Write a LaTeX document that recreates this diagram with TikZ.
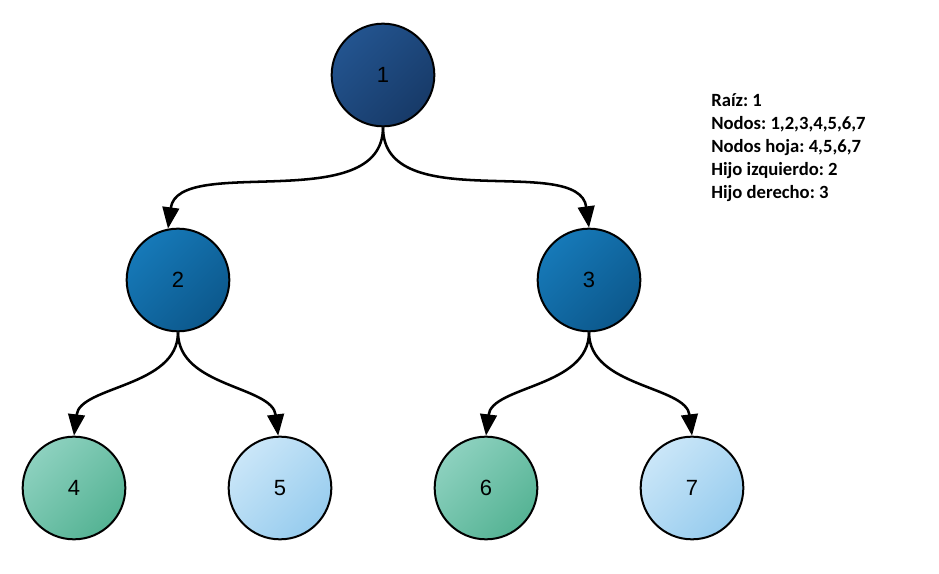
\documentclass[tikz,border=0pt]{standalone}
\usepackage{fontspec}
\setmainfont{Liberation Sans}
\newfontfamily\notefont{Carlito}
\usetikzlibrary{arrows.meta}
\definecolor{rootlight}{HTML}{23548F}
\definecolor{rootdark}{HTML}{173A68}
\definecolor{innerlight}{HTML}{1679B8}
\definecolor{innerdark}{HTML}{0C588C}
\definecolor{greenlight}{HTML}{8DD1BF}
\definecolor{greendark}{HTML}{55B394}
\definecolor{bluelight}{HTML}{CAE6F8}
\definecolor{bluedark}{HTML}{97CCEE}
\frenchspacing

\begin{document}
\begin{tikzpicture}[x=0.75pt, y=-0.75pt,
  every knot/.style={circle, draw, line width=1.5pt, minimum size=77pt, inner sep=0pt,
    font=\fontsize{16.5}{19}\selectfont},
  shade from/.style 2 args={top color=#1, bottom color=#2, shading angle=45},
  knot root/.style={shade from={rootlight}{rootdark}},
  knot inner/.style={shade from={innerlight}{innerdark}},
  knot green/.style={shade from={greenlight}{greendark}},
  knot blue/.style={shade from={bluelight}{bluedark}},
  edge/.style={line width=1.9pt, -{Triangle[length=16pt, width=12.5pt]}},
  note/.style={align=left, inner sep=0pt, font=\notefont\bfseries\fontsize{14}{17.25}\selectfont}]
  \fill [white] (0,0) rectangle (939,574);
  \useasboundingbox (0,0) rectangle (939,574);

  \foreach \n/\x/\y/\s in {1/383/75/root, 2/178/280/inner, 3/589/280/inner,
      4/74/488/green, 5/280/488/blue, 6/486/488/green, 7/692/488/blue}
    \node [every knot, knot \s/.try] (knot-\n) at (\x,\y) {\n};

  \foreach \f/\t/\a/\k/\e/\d in {1/2/101/90/75/10, 1/3/90/90/75/-10,
      2/4/90/55/50/6, 2/5/92/55/50/-6, 3/6/90/55/50/6, 3/7/90/55/50/-6}
    \draw [edge] (knot-\f.south) .. controls +(0,\k) and +(\d,-\e) .. (knot-\t.\a);

  \node [note, anchor=north west] (facts) at (711,93)
    {Raíz: 1\\Nodos: 1,2,3,4,5,6,7\\Nodos hoja: 4,5,6,7\\Hijo izquierdo: 2\\Hijo derecho: 3};
\end{tikzpicture}
\end{document}
